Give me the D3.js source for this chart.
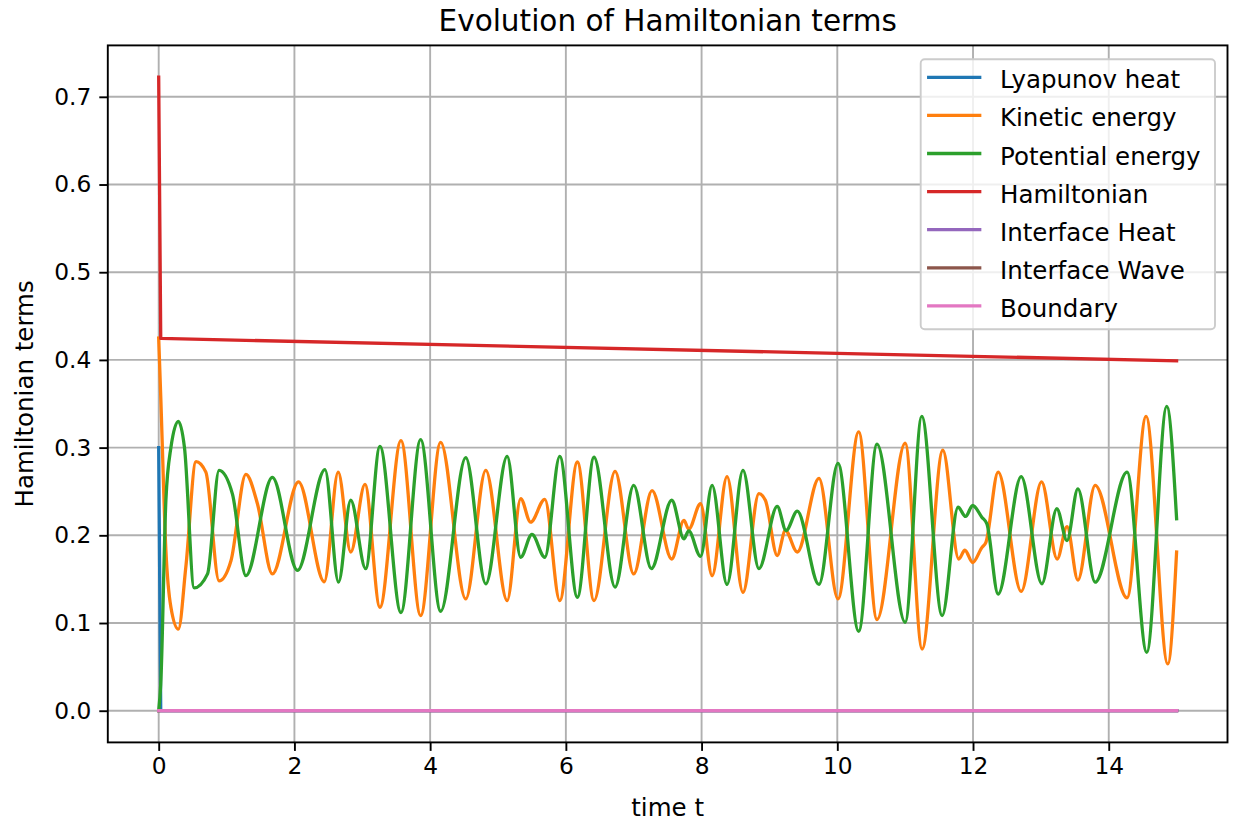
<!DOCTYPE html>
<html>
<head>
<meta charset="utf-8">
<script src="https://cdn.jsdelivr.net/npm/d3@7"></script>
<style>
    body { margin: 0; background: #fff; }
    svg { display: block; font-family: "DejaVu Sans", sans-serif; }
</style>
</head>
<body>
<svg id="chart" width="1233" height="824"></svg>
<script>
// ---- Dados (tempo t, valor)
const lyapunovHeat = [[0, 0.30], [0.03, 0], [15, 0]];

const kineticEnergy = [
    [0, 0.425], [0.032, 0.354], [0.106, 0.183], [0.18, 0.118], [0.29, 0.093], [0.40, 0.164],
    [0.55, 0.284], [0.695, 0.272], [0.89, 0.148], [1.065, 0.171], [1.285, 0.2695], [1.455, 0.236],
    [1.675, 0.156], [2.06, 0.261], [2.44, 0.147], [2.645, 0.272], [2.83, 0.181], [3.04, 0.258],
    [3.26, 0.118], [3.57, 0.308], [3.86, 0.1085], [4.155, 0.306], [4.525, 0.1275], [4.82, 0.274],
    [5.135, 0.1256], [5.335, 0.2417], [5.48, 0.215], [5.69, 0.241], [5.91, 0.1256], [6.17, 0.2836],
    [6.415, 0.1256], [6.725, 0.273], [7.0, 0.156], [7.27, 0.251], [7.56, 0.173], [7.74, 0.217],
    [7.81, 0.207], [7.985, 0.236], [8.155, 0.154], [8.375, 0.267], [8.61, 0.135], [8.845, 0.2475],
    [8.94, 0.24], [9.115, 0.177], [9.235, 0.2055], [9.41, 0.181], [9.73, 0.265], [10.01, 0.1275],
    [10.315, 0.318], [10.585, 0.104], [11.0, 0.305], [11.25, 0.0704], [11.555, 0.297], [11.79, 0.173],
    [11.88, 0.183], [11.995, 0.169], [12.13, 0.186], [12.19, 0.192], [12.37, 0.272], [12.71, 0.136],
    [13.01, 0.261], [13.24, 0.173], [13.385, 0.210], [13.545, 0.149], [13.80, 0.257], [14.27, 0.1287],
    [14.55, 0.3357], [14.87, 0.0533], [15.0, 0.181]
];

const potentialEnergy = [
    [0, 0], [0.03, 0.03], [0.106, 0.24], [0.18, 0.30], [0.29, 0.330], [0.38, 0.30], [0.523, 0.140],
    [0.72, 0.156], [0.89, 0.274], [1.087, 0.247], [1.285, 0.154], [1.675, 0.266], [2.045, 0.160],
    [2.45, 0.275], [2.65, 0.1466], [2.83, 0.240], [3.05, 0.162], [3.26, 0.3015], [3.57, 0.112],
    [3.86, 0.309], [4.155, 0.1134], [4.525, 0.2886], [4.82, 0.1447], [5.135, 0.290], [5.335, 0.175],
    [5.50, 0.201], [5.69, 0.175], [5.91, 0.290], [6.17, 0.1294], [6.415, 0.289], [6.725, 0.141],
    [7.0, 0.257], [7.26, 0.162], [7.56, 0.240], [7.74, 0.196], [7.81, 0.205], [7.985, 0.176],
    [8.155, 0.257], [8.375, 0.144], [8.61, 0.274], [8.845, 0.162], [9.115, 0.233], [9.245, 0.2055],
    [9.41, 0.2276], [9.73, 0.144], [10.01, 0.282], [10.315, 0.0906], [10.585, 0.304], [11.0, 0.1009],
    [11.245, 0.3357], [11.545, 0.1085], [11.78, 0.232], [11.89, 0.2215], [11.995, 0.234], [12.13, 0.2207],
    [12.205, 0.213], [12.37, 0.133], [12.71, 0.267], [13.015, 0.1447], [13.235, 0.2303], [13.385, 0.194],
    [13.545, 0.253], [13.80, 0.1466], [14.27, 0.272], [14.56, 0.0666], [14.855, 0.347], [15.0, 0.219]
];

const hamiltonian = [[0, 0.7225], [0.03, 0.4245], [5, 0.416], [10, 0.4075], [15, 0.399]];
const interfaceHeat = [[0, 0], [15, 0]];
const interfaceWave = [[0, 0], [15, 0]];
const boundary = [[0, 0], [15, 0]];

const SERIES_NAMES = ['Lyapunov heat', 'Kinetic energy', 'Potential energy', 'Hamiltonian',
    'Interface Heat', 'Interface Wave', 'Boundary'];
const SERIES_DATA = [lyapunovHeat, kineticEnergy, potentialEnergy, hamiltonian,
    interfaceHeat, interfaceWave, boundary];
const SERIES_COLORS = ['#1f77b4', '#ff7f0e', '#2ca02c', '#d62728', '#9467bd', '#8c564b', '#e377c2'];

const X_TICKS = [0, 2, 4, 6, 8, 10, 12, 14];
const Y_TICKS = [0, 0.1, 0.2, 0.3, 0.4, 0.5, 0.6, 0.7];

const TITLE = 'Evolution of Hamiltonian terms';
const X_LABEL = 'time t';
const Y_LABEL = 'Hamiltonian terms';

// ---- Layout
const svg = d3.select('#chart');
const box = { left: 107.8, right: 1227.5, top: 45.4, bottom: 742.4 };
const tickFont = 23.3;
const labelFont = 24.5;

const allPoints = SERIES_DATA.flat();
const [tMin, tMax] = d3.extent(allPoints, d => d[0]);
const [vMin, vMax] = d3.extent(allPoints, d => d[1]);
const tPad = (tMax - tMin) * 0.05;
const vPad = (vMax - vMin) * 0.05;

const x = d3.scaleLinear()
    .domain([tMin - tPad, tMax + tPad])
    .range([box.left, box.right]);

const y = d3.scaleLinear()
    .domain([vMin - vPad, vMax + vPad])
    .range([box.bottom, box.top]);

// ---- Grade
const grid = svg.append('g')
    .attr('stroke', '#b0b0b0')
    .attr('stroke-width', 1.9);

grid.selectAll('.gx')
    .data(X_TICKS).join('line')
    .attr('x1', d => x(d)).attr('x2', d => x(d))
    .attr('y1', box.top).attr('y2', box.bottom);

grid.selectAll('.gy')
    .data(Y_TICKS).join('line')
    .attr('x1', box.left).attr('x2', box.right)
    .attr('y1', d => y(d)).attr('y2', d => y(d));

// ---- Linhas
const clipId = 'plot-clip';
svg.append('clipPath').attr('id', clipId)
    .append('rect')
    .attr('x', box.left).attr('y', box.top)
    .attr('width', box.right - box.left).attr('height', box.bottom - box.top);

const smoothLine = d3.line()
    .x(d => x(d[0]))
    .y(d => y(d[1]))
    .curve(d3.curveMonotoneX);

const straightLine = d3.line()
    .x(d => x(d[0]))
    .y(d => y(d[1]));

svg.append('g')
    .attr('clip-path', `url(#${clipId})`)
    .selectAll('path')
    .data(SERIES_DATA).join('path')
    .attr('d', (d, i) => (i === 1 || i === 2) ? smoothLine(d) : straightLine(d))
    .attr('fill', 'none')
    .attr('stroke', (d, i) => SERIES_COLORS[i])
    .attr('stroke-width', 3.3)
    .attr('stroke-linejoin', 'round')
    .attr('stroke-linecap', 'square');

// ---- Eixos
svg.append('g')
    .attr('transform', `translate(0, ${box.bottom})`)
    .call(d3.axisBottom(x).tickValues(X_TICKS).tickFormat(d3.format('d')).tickSize(8.5).tickPadding(7))
    .call(g => g.select('.domain').remove())
    .call(g => g.selectAll('line').attr('stroke', '#000').attr('stroke-width', 1.9))
    .call(g => g.selectAll('text')
        .attr('font-size', tickFont).attr('font-family', 'DejaVu Sans')
        .attr('fill', '#000'));

svg.append('g')
    .attr('transform', `translate(${box.left}, 0)`)
    .call(d3.axisLeft(y).tickValues(Y_TICKS).tickFormat(d3.format('.1f')).tickSize(8.5).tickPadding(8))
    .call(g => g.select('.domain').remove())
    .call(g => g.selectAll('line').attr('stroke', '#000').attr('stroke-width', 1.9))
    .call(g => g.selectAll('text')
        .attr('font-size', tickFont).attr('font-family', 'DejaVu Sans')
        .attr('fill', '#000'));

svg.append('rect')
    .attr('x', box.left).attr('y', box.top)
    .attr('width', box.right - box.left).attr('height', box.bottom - box.top)
    .attr('fill', 'none').attr('stroke', '#000').attr('stroke-width', 1.9);

// ---- Textos
svg.append('text')
    .attr('x', (box.left + box.right) / 2).attr('y', 30.7)
    .attr('text-anchor', 'middle')
    .attr('font-size', 29.5).attr('fill', '#000')
    .text(TITLE);

svg.append('text')
    .attr('x', (box.left + box.right) / 2).attr('y', 816)
    .attr('text-anchor', 'middle')
    .attr('font-size', labelFont).attr('fill', '#000')
    .text(X_LABEL);

svg.append('text')
    .attr('transform', `translate(33.3, ${(box.top + box.bottom) / 2}) rotate(-90)`)
    .attr('text-anchor', 'middle')
    .attr('font-size', labelFont).attr('fill', '#000')
    .text(Y_LABEL);

// ---- Legenda
const legend = svg.append('g').attr('transform', 'translate(920.7, 59.3)');
const rowStep = 38.1;

legend.append('rect')
    .attr('width', 294.3).attr('height', 270)
    .attr('rx', 4).attr('ry', 4)
    .attr('fill', '#fff').attr('fill-opacity', 0.8)
    .attr('stroke', '#cccccc').attr('stroke-width', 1.9);

const rows = legend.selectAll('.legend-row')
    .data(SERIES_NAMES).join('g')
    .attr('class', 'legend-row')
    .attr('transform', (d, i) => `translate(0, ${18 + i * rowStep})`);

rows.append('line')
    .attr('x1', 8).attr('x2', 59)
    .attr('stroke', (d, i) => SERIES_COLORS[i])
    .attr('stroke-width', 3.3)
    .attr('stroke-linecap', 'square');

rows.append('text')
    .attr('x', 79.3).attr('y', 11)
    .attr('font-size', labelFont).attr('fill', '#000')
    .text(d => d);
</script>
</body>
</html>
